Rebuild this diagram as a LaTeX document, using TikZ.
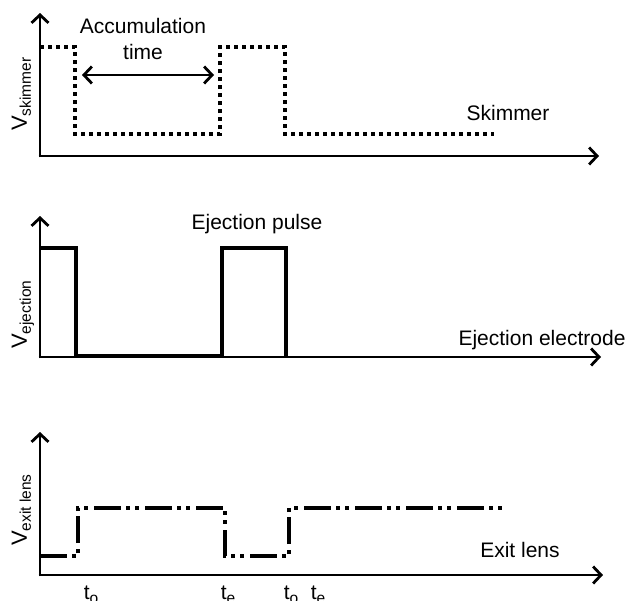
\documentclass[tikz,border=0pt]{standalone}
\usepackage{fontspec}
\setmainfont{Liberation Sans}
\usetikzlibrary{arrows.meta}
\tikzset{
  barb/.tip={Straight Barb[length=8pt,width=17pt,line width=2.8pt]},
  axis/.style={line width=2.8pt,-barb},
  skim/.style={line width=4pt,dash pattern=on 4pt off 4pt},
  eject/.style={line width=3.4pt},
  exitl/.style={line width=4pt,dash pattern=on 27pt off 5pt on 4pt off 5pt on 4pt off 6pt},
  lbl/.style={inner sep=0pt,font=\fontsize{21}{24}\selectfont},
  vlbl/.style={inner sep=0pt,rotate=90,anchor=base west,font=\fontsize{22}{24}\selectfont},
  tl/.style={inner sep=0pt,anchor=base,font=\fontsize{21}{24}\selectfont}
}
\newcommand{\subt}[1]{\raisebox{-4pt}{\fontsize{15.5}{16}\selectfont #1}}
\begin{document}
\begin{tikzpicture}[x=1pt,y=-1pt,line join=miter]
\useasboundingbox (0,0) rectangle (631,600);
% panel 1
\coordinate (o1) at (40,156);
\coordinate (t1) at (40,13);
\coordinate (r1) at (599,156);
\draw[axis] (40,157.4) -- (t1);
\draw[axis] (38.6,156) -- (r1);
\draw[skim] (40,47) -- (75,47) -- (75,134) -- (220,134) -- (220,47) -- (285,47) -- (285,134) -- (494,134);
\coordinate (a1) at (82,75);
\coordinate (a2) at (214,75);
\draw[line width=2.8pt,barb-barb] (a1) -- (a2);
\node[lbl,anchor=base] (acc) at (143,33) {Accumulation};
\node[lbl,anchor=base] (tim) at (143,59) {time};
\node[lbl,anchor=base] (skl) at (508,120) {Skimmer};
\node[vlbl] (v1) at (27,131) {V\subt{skimmer}};
% panel 2
\coordinate (o2) at (40,357);
\coordinate (t2) at (40,216);
\coordinate (r2) at (601,357);
\draw[axis] (40,358.4) -- (t2);
\draw[axis] (38.6,357) -- (r2);
\draw[eject] (40,248) -- (76,248) -- (76,356) -- (222,356) -- (222,248) -- (286,248) -- (286,356);
\node[lbl,anchor=base] (ejp) at (257,229) {Ejection pulse};
\node[lbl,anchor=base] (eje) at (542,345) {Ejection electrode};
\node[vlbl] (v2) at (27,349) {V\subt{ejection}};
% panel 3
\coordinate (o3) at (40,575);
\coordinate (t3) at (40,432);
\coordinate (r3) at (603,575);
\draw[axis] (40,576.4) -- (t3);
\draw[axis] (38.6,575) -- (r3);
\draw[exitl] (40,556) -- (78,556) -- (78,508) -- (225,508) -- (225,556) -- (289,556) -- (289,508) -- (503,508);
\node[lbl,anchor=base] (exl) at (520,557) {Exit lens};
\node[vlbl] (v3) at (27,546) {V\subt{exit lens}};
\node[tl] (to1) at (91,599) {t\subt{o}};
\node[tl] (te1) at (228,599) {t\subt{e}};
\node[tl] (to2) at (291,599) {t\subt{o}};
\node[tl] (te2) at (318,599) {t\subt{e}};
\end{tikzpicture}
\end{document}
